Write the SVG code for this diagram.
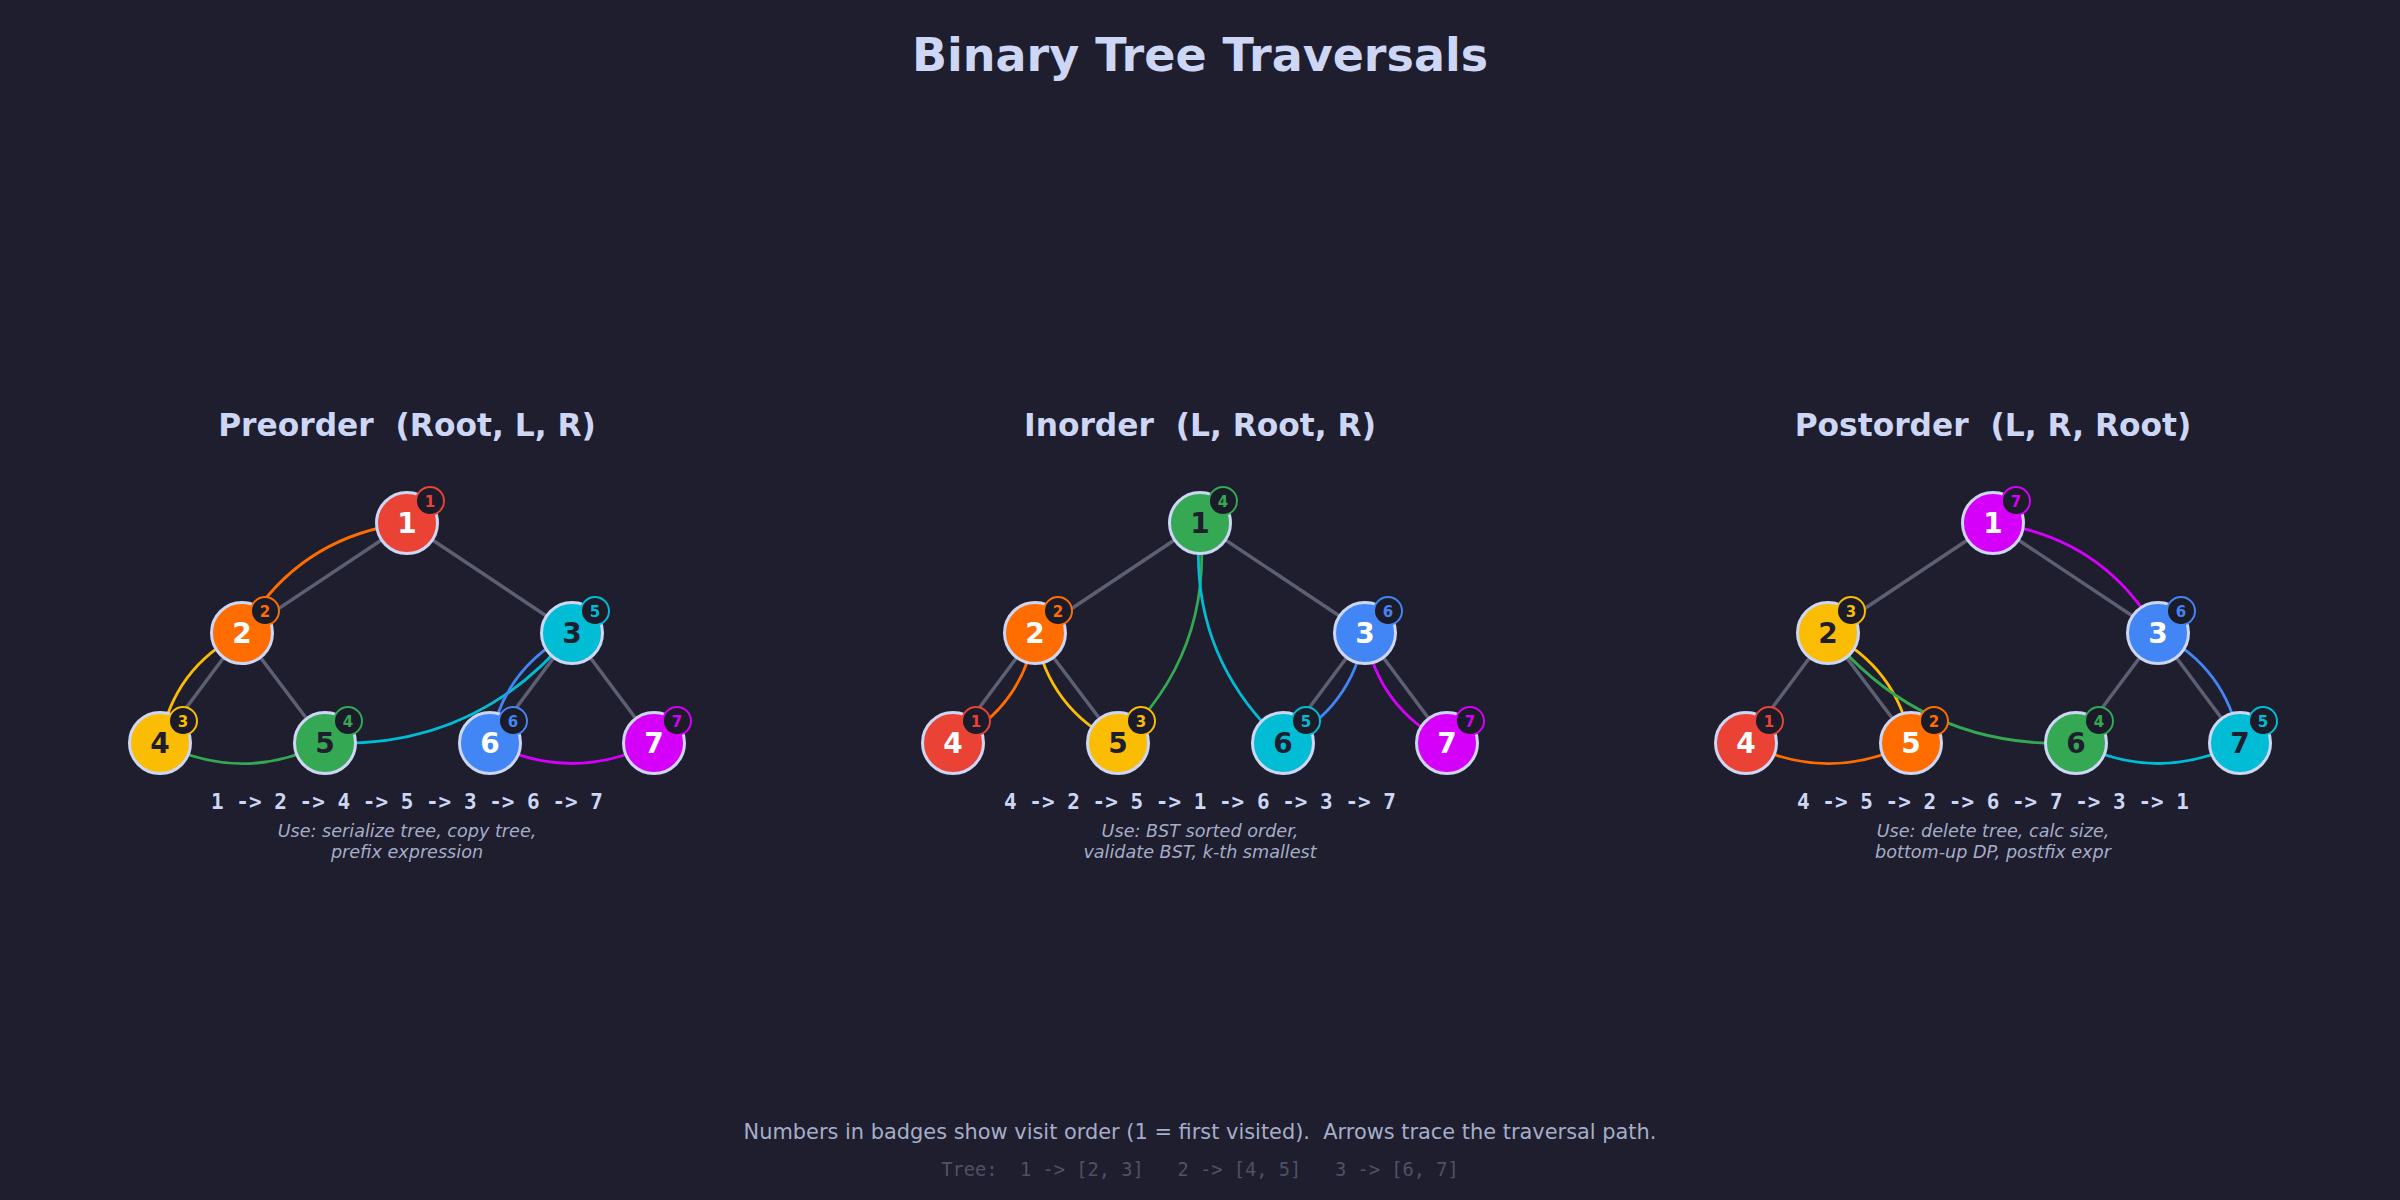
<svg xmlns="http://www.w3.org/2000/svg" width="2400" height="1200" viewBox="0 0 2400 1200">
<style>
.title{font-family:"DejaVu Sans",sans-serif;font-weight:bold;font-size:46px;fill:#cdd6f4;text-anchor:middle}
.sec{font-family:"DejaVu Sans",sans-serif;font-weight:bold;font-size:31.3px;fill:#cdd6f4;text-anchor:middle;white-space:pre}
.seq{font-family:"DejaVu Sans Mono",monospace;font-weight:bold;font-size:21px;fill:#cdd6f4;text-anchor:middle;white-space:pre}
.use{font-family:"DejaVu Sans",sans-serif;font-style:italic;font-size:17.6px;fill:#a6adc8;text-anchor:middle}
.foot{font-family:"DejaVu Sans",sans-serif;font-size:20.9px;fill:#a6adc8;text-anchor:middle;white-space:pre}
.tree{font-family:"DejaVu Sans Mono",monospace;font-size:18.7px;fill:#4f5166;text-anchor:middle;white-space:pre}
.edge{stroke:#5d5f73;stroke-width:3.5;fill:none}
.arc{fill:none;stroke-width:2.8}
.nc{stroke:#cdd6f4;stroke-width:3}
.lbl{font-family:"DejaVu Sans",sans-serif;font-weight:bold;font-size:28px;text-anchor:middle}
.badge{fill:#1b1b29;stroke-width:2}
.btx{font-family:"DejaVu Sans",sans-serif;font-weight:bold;font-size:15px;text-anchor:middle}
.w{fill:#ffffff}.d{fill:#1e1e2e}
.c1{fill:#ea4335}.c2{fill:#ff6d00}.c3{fill:#fbbc04}.c4{fill:#34a853}.c5{fill:#00bcd4}.c6{fill:#4285f4}.c7{fill:#d500f9}
.s1{stroke:#ea4335}.s2{stroke:#ff6d00}.s3{stroke:#fbbc04}.s4{stroke:#34a853}.s5{stroke:#00bcd4}.s6{stroke:#4285f4}.s7{stroke:#d500f9}
</style>
<rect width="2400" height="1200" fill="#1e1e2e"/>
<text class="title" x="1200" y="71">Binary Tree Traversals</text>

<!-- Preorder -->
<text class="sec" x="407" y="436">Preorder  (Root, L, R)</text>
<g id="pre-edges">
<line class="edge" x1="407" y1="523" x2="242" y2="633"/>
<line class="edge" x1="407" y1="523" x2="572" y2="633"/>
<line class="edge" x1="242" y1="633" x2="160" y2="743"/>
<line class="edge" x1="242" y1="633" x2="325" y2="743"/>
<line class="edge" x1="572" y1="633" x2="490" y2="743"/>
<line class="edge" x1="572" y1="633" x2="654" y2="743"/>
</g>
<g id="pre-arcs">
<path class="arc s2" d="M407,523 Q297,536.75 242,633"/>
<path class="arc s3" d="M242,633 Q173.5,667.5 160,743"/>
<path class="arc s4" d="M160,743 Q242.5,784.25 325,743"/>
<path class="arc s5" d="M325,743 Q476,749.75 572,633"/>
<path class="arc s6" d="M572,633 Q503.5,667.5 490,743"/>
<path class="arc s7" d="M490,743 Q572,784 654,743"/>
</g>
<g id="pre-n1"><circle class="nc c1" cx="407" cy="523" r="30.5"/><text class="lbl w" x="407" y="533">1</text><circle class="badge s1" cx="430" cy="501" r="14"/><text class="btx c1" x="430" y="506.5">1</text></g>
<g id="pre-n2"><circle class="nc c2" cx="242" cy="633" r="30.5"/><text class="lbl w" x="242" y="643">2</text><circle class="badge s2" cx="265" cy="611" r="14"/><text class="btx c2" x="265" y="616.5">2</text></g>
<g id="pre-n3"><circle class="nc c5" cx="572" cy="633" r="30.5"/><text class="lbl d" x="572" y="643">3</text><circle class="badge s5" cx="595" cy="611" r="14"/><text class="btx c5" x="595" y="616.5">5</text></g>
<g id="pre-n4"><circle class="nc c3" cx="160" cy="743" r="30.5"/><text class="lbl d" x="160" y="753">4</text><circle class="badge s3" cx="183" cy="721" r="14"/><text class="btx c3" x="183" y="726.5">3</text></g>
<g id="pre-n5"><circle class="nc c4" cx="325" cy="743" r="30.5"/><text class="lbl d" x="325" y="753">5</text><circle class="badge s4" cx="348" cy="721" r="14"/><text class="btx c4" x="348" y="726.5">4</text></g>
<g id="pre-n6"><circle class="nc c6" cx="490" cy="743" r="30.5"/><text class="lbl w" x="490" y="753">6</text><circle class="badge s6" cx="513" cy="721" r="14"/><text class="btx c6" x="513" y="726.5">6</text></g>
<g id="pre-n7"><circle class="nc c7" cx="654" cy="743" r="30.5"/><text class="lbl w" x="654" y="753">7</text><circle class="badge s7" cx="677" cy="721" r="14"/><text class="btx c7" x="677" y="726.5">7</text></g>
<text class="seq" x="407" y="809">1 -&gt; 2 -&gt; 4 -&gt; 5 -&gt; 3 -&gt; 6 -&gt; 7</text>
<text class="use" x="407" y="837">Use: serialize tree, copy tree,</text>
<text class="use" x="407" y="858">prefix expression</text>

<!-- Inorder -->
<text class="sec" x="1200" y="436">Inorder  (L, Root, R)</text>
<g id="in-edges">
<line class="edge" x1="1200" y1="523" x2="1035" y2="633"/>
<line class="edge" x1="1200" y1="523" x2="1365" y2="633"/>
<line class="edge" x1="1035" y1="633" x2="953" y2="743"/>
<line class="edge" x1="1035" y1="633" x2="1118" y2="743"/>
<line class="edge" x1="1365" y1="633" x2="1283" y2="743"/>
<line class="edge" x1="1365" y1="633" x2="1447" y2="743"/>
</g>
<g id="in-arcs">
<path class="arc s2" d="M953,743 Q1021.5,708.5 1035,633"/>
<path class="arc s3" d="M1035,633 Q1049,708.75 1118,743"/>
<path class="arc s4" d="M1118,743 Q1214,653.5 1200,523"/>
<path class="arc s5" d="M1200,523 Q1186.5,653.75 1283,743"/>
<path class="arc s6" d="M1283,743 Q1351.5,708.5 1365,633"/>
<path class="arc s7" d="M1365,633 Q1378.5,708.5 1447,743"/>
</g>
<g id="in-n1"><circle class="nc c4" cx="1200" cy="523" r="30.5"/><text class="lbl d" x="1200" y="533">1</text><circle class="badge s4" cx="1223" cy="501" r="14"/><text class="btx c4" x="1223" y="506.5">4</text></g>
<g id="in-n2"><circle class="nc c2" cx="1035" cy="633" r="30.5"/><text class="lbl w" x="1035" y="643">2</text><circle class="badge s2" cx="1058" cy="611" r="14"/><text class="btx c2" x="1058" y="616.5">2</text></g>
<g id="in-n3"><circle class="nc c6" cx="1365" cy="633" r="30.5"/><text class="lbl w" x="1365" y="643">3</text><circle class="badge s6" cx="1388" cy="611" r="14"/><text class="btx c6" x="1388" y="616.5">6</text></g>
<g id="in-n4"><circle class="nc c1" cx="953" cy="743" r="30.5"/><text class="lbl w" x="953" y="753">4</text><circle class="badge s1" cx="976" cy="721" r="14"/><text class="btx c1" x="976" y="726.5">1</text></g>
<g id="in-n5"><circle class="nc c3" cx="1118" cy="743" r="30.5"/><text class="lbl d" x="1118" y="753">5</text><circle class="badge s3" cx="1141" cy="721" r="14"/><text class="btx c3" x="1141" y="726.5">3</text></g>
<g id="in-n6"><circle class="nc c5" cx="1283" cy="743" r="30.5"/><text class="lbl d" x="1283" y="753">6</text><circle class="badge s5" cx="1306" cy="721" r="14"/><text class="btx c5" x="1306" y="726.5">5</text></g>
<g id="in-n7"><circle class="nc c7" cx="1447" cy="743" r="30.5"/><text class="lbl w" x="1447" y="753">7</text><circle class="badge s7" cx="1470" cy="721" r="14"/><text class="btx c7" x="1470" y="726.5">7</text></g>
<text class="seq" x="1200" y="809">4 -&gt; 2 -&gt; 5 -&gt; 1 -&gt; 6 -&gt; 3 -&gt; 7</text>
<text class="use" x="1200" y="837">Use: BST sorted order,</text>
<text class="use" x="1200" y="858">validate BST, k-th smallest</text>

<!-- Postorder -->
<text class="sec" x="1993" y="436">Postorder  (L, R, Root)</text>
<g id="post-edges">
<line class="edge" x1="1993" y1="523" x2="1828" y2="633"/>
<line class="edge" x1="1993" y1="523" x2="2158" y2="633"/>
<line class="edge" x1="1828" y1="633" x2="1746" y2="743"/>
<line class="edge" x1="1828" y1="633" x2="1911" y2="743"/>
<line class="edge" x1="2158" y1="633" x2="2076" y2="743"/>
<line class="edge" x1="2158" y1="633" x2="2240" y2="743"/>
</g>
<g id="post-arcs">
<path class="arc s2" d="M1746,743 Q1828.5,784.25 1911,743"/>
<path class="arc s3" d="M1911,743 Q1897,667.25 1828,633"/>
<path class="arc s4" d="M1828,633 Q1924.5,750 2076,743"/>
<path class="arc s5" d="M2076,743 Q2158,784 2240,743"/>
<path class="arc s6" d="M2240,743 Q2226.5,667.5 2158,633"/>
<path class="arc s7" d="M2158,633 Q2103,536.75 1993,523"/>
</g>
<g id="post-n1"><circle class="nc c7" cx="1993" cy="523" r="30.5"/><text class="lbl w" x="1993" y="533">1</text><circle class="badge s7" cx="2016" cy="501" r="14"/><text class="btx c7" x="2016" y="506.5">7</text></g>
<g id="post-n2"><circle class="nc c3" cx="1828" cy="633" r="30.5"/><text class="lbl d" x="1828" y="643">2</text><circle class="badge s3" cx="1851" cy="611" r="14"/><text class="btx c3" x="1851" y="616.5">3</text></g>
<g id="post-n3"><circle class="nc c6" cx="2158" cy="633" r="30.5"/><text class="lbl w" x="2158" y="643">3</text><circle class="badge s6" cx="2181" cy="611" r="14"/><text class="btx c6" x="2181" y="616.5">6</text></g>
<g id="post-n4"><circle class="nc c1" cx="1746" cy="743" r="30.5"/><text class="lbl w" x="1746" y="753">4</text><circle class="badge s1" cx="1769" cy="721" r="14"/><text class="btx c1" x="1769" y="726.5">1</text></g>
<g id="post-n5"><circle class="nc c2" cx="1911" cy="743" r="30.5"/><text class="lbl w" x="1911" y="753">5</text><circle class="badge s2" cx="1934" cy="721" r="14"/><text class="btx c2" x="1934" y="726.5">2</text></g>
<g id="post-n6"><circle class="nc c4" cx="2076" cy="743" r="30.5"/><text class="lbl d" x="2076" y="753">6</text><circle class="badge s4" cx="2099" cy="721" r="14"/><text class="btx c4" x="2099" y="726.5">4</text></g>
<g id="post-n7"><circle class="nc c5" cx="2240" cy="743" r="30.5"/><text class="lbl d" x="2240" y="753">7</text><circle class="badge s5" cx="2263" cy="721" r="14"/><text class="btx c5" x="2263" y="726.5">5</text></g>
<text class="seq" x="1993" y="809">4 -&gt; 5 -&gt; 2 -&gt; 6 -&gt; 7 -&gt; 3 -&gt; 1</text>
<text class="use" x="1993" y="837">Use: delete tree, calc size,</text>
<text class="use" x="1993" y="858">bottom-up DP, postfix expr</text>

<text class="foot" x="1200" y="1139">Numbers in badges show visit order (1 = first visited).  Arrows trace the traversal path.</text>
<text class="tree" x="1200" y="1176">Tree:  1 -&gt; [2, 3]   2 -&gt; [4, 5]   3 -&gt; [6, 7]</text>
</svg>
